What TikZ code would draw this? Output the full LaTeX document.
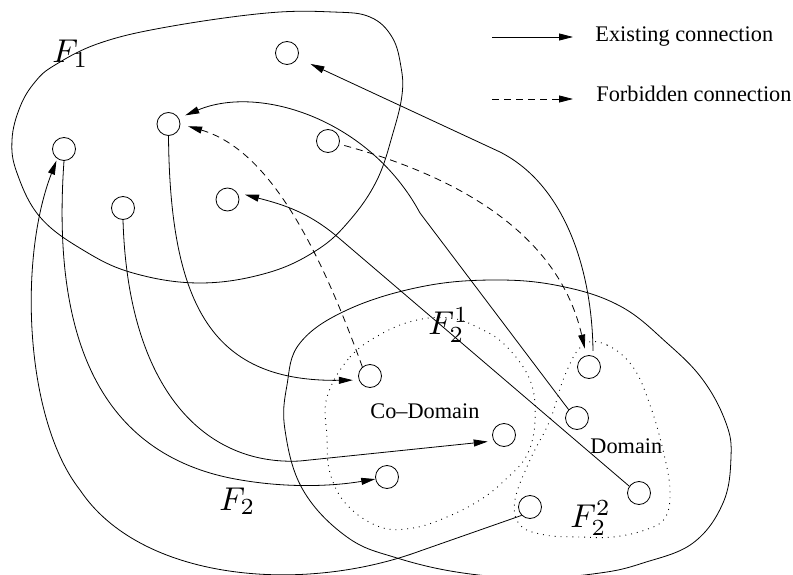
\documentclass[tikz,border=0pt]{standalone}
\usepackage{graphicx}
\usepackage{fontspec}
\newfontfamily\tms[Ligatures=TeX]{Liberation Serif}
\usetikzlibrary{arrows.meta}
\newcommand{\bigmath}[1]{\scalebox{3.3}{$#1$}}
\begin{document}
\begin{tikzpicture}[x=1pt,y=-1pt,line width=0.8pt,
  dot/.style={circle,draw,minimum size=23pt,inner sep=0pt},
  arr/.style={-{Triangle[length=14pt,width=7pt]}},
  dsh/.style={dash pattern=on 7pt off 5pt},
  dotb/.style={dash pattern=on 0.9pt off 5pt,line width=0.9pt},
  lab/.style={font=\tms\fontsize{22.3}{26}\selectfont,inner sep=0pt,anchor=base west},
  mlab/.style={inner sep=0pt,anchor=base west}]
\useasboundingbox (0,0) rectangle (793,575);
% blobs
\draw plot[smooth cycle,tension=0.65] coordinates {
 (55,65) (100,43) (167,27) (267,13) (333,12) (370,17) (392,37) (401,67) (402,95)
 (393,133) (377,180) (350,220) (317,250) (267,273) (200,283) (133,273) (83,250)
 (40,217) (17,173) (12,140) (20,107) (35,82)};
\draw plot[smooth cycle,tension=0.65] coordinates {
 (420,287) (493,280) (560,286) (620,306) (667,343) (703,380) (726,423) (731,457)
 (723,503) (693,543) (643,563) (600,573) (535,578) (463,573) (397,558) (347,537)
 (303,490) (285,430) (287,385) (300,343) (347,310)};
\draw[dotb] plot[smooth cycle,tension=0.65] coordinates {
 (327,397) (350,357) (383,333) (417,320) (450,318) (477,327) (505,345) (530,380)
 (535,420) (527,455) (505,480) (480,500) (447,517) (413,528) (380,527) (347,505)
 (330,473) (327,437)};
\draw[dotb] plot[smooth cycle,tension=0.65] coordinates {
 (583,345) (607,345) (633,367) (650,405) (663,450) (670,490) (665,518) (645,530)
 (613,537) (580,537) (545,535) (520,525) (515,500) (530,460) (550,420) (565,375)};
% nodes
\node[dot] (n1) at (287,53) {};
\node[dot] (n2) at (168.5,124) {};
\node[dot] (n3) at (64,149) {};
\node[dot] (n4) at (328,141) {};
\node[dot] (n5) at (123,208) {};
\node[dot] (n6) at (227.5,199.5) {};
\node[dot] (c1) at (370,376) {};
\node[dot] (c2) at (504,435) {};
\node[dot] (c3) at (387,477) {};
\node[dot] (d1) at (589,367) {};
\node[dot] (d2) at (577,418) {};
\node[dot] (d3) at (639,493) {};
\node[dot] (d4) at (530,507) {};
% labels
\node[mlab] (lF1) at (52,63) {\bigmath{F_1}};
\node[mlab] (lF2) at (219,510) {\bigmath{F_2}};
\node[mlab] (lF21) at (428,334) {\bigmath{F_2^1}};
\node[mlab] (lF22) at (570,527) {\bigmath{F_2^2}};
\node[lab] (lco) at (370,418) {Co–Domain};
\node[lab] (ldo) at (590,453) {Domain};
% legend
\coordinate (l1a) at (492,37); \coordinate (l1b) at (573,37);
\coordinate (l2a) at (492,99); \coordinate (l2b) at (573,99);
\draw[arr] (l1a) -- (l1b);
\draw[arr,dsh] (l2a) -- (l2b);
\node[lab] (le1) at (595,42) {Existing connection};
\node[lab] (le2) at (596,102) {Forbidden connection};
% connectors
\draw[arr,shorten <=5pt,shorten >=14pt] (d1.70) .. controls (592,270) and (565,185) .. (500,152) -- (n1);
\draw[arr,shorten >=7pt] (d2.135) -- (420,213) .. controls (370,120) and (260,84) .. (n2.30);
\draw[arr,shorten >=8pt] (d3.145) -- (340,239) .. controls (310,213) and (285,205) .. (n6.35);
\draw[arr,dsh,shorten <=5pt,shorten >=7pt] (n4) .. controls (470,180) and (560,240) .. (d1);
\draw[arr,dsh,shorten >=8pt] (c1.130) .. controls (320,250) and (270,150) .. (n2.0);
\draw[arr,shorten >=6pt] (n2.south) .. controls (170,310) and (215,382) .. (c1.200);
\draw[arr,shorten >=6pt] (n5.south) .. controls (128,390) and (205,466) .. (300,461) -- (c2.210);
\draw[arr] (n3.south) .. controls (52,330) and (95,450) .. (230,478) .. controls (290,490) and (340,485) .. (c3.190);
\draw[arr,shorten >=2pt] (d4.225) -- (420,551) .. controls (300,595) and (140,580) .. (80,490) .. controls (25,420) and (18,260) .. (n3.235);
\end{tikzpicture}
\end{document}
